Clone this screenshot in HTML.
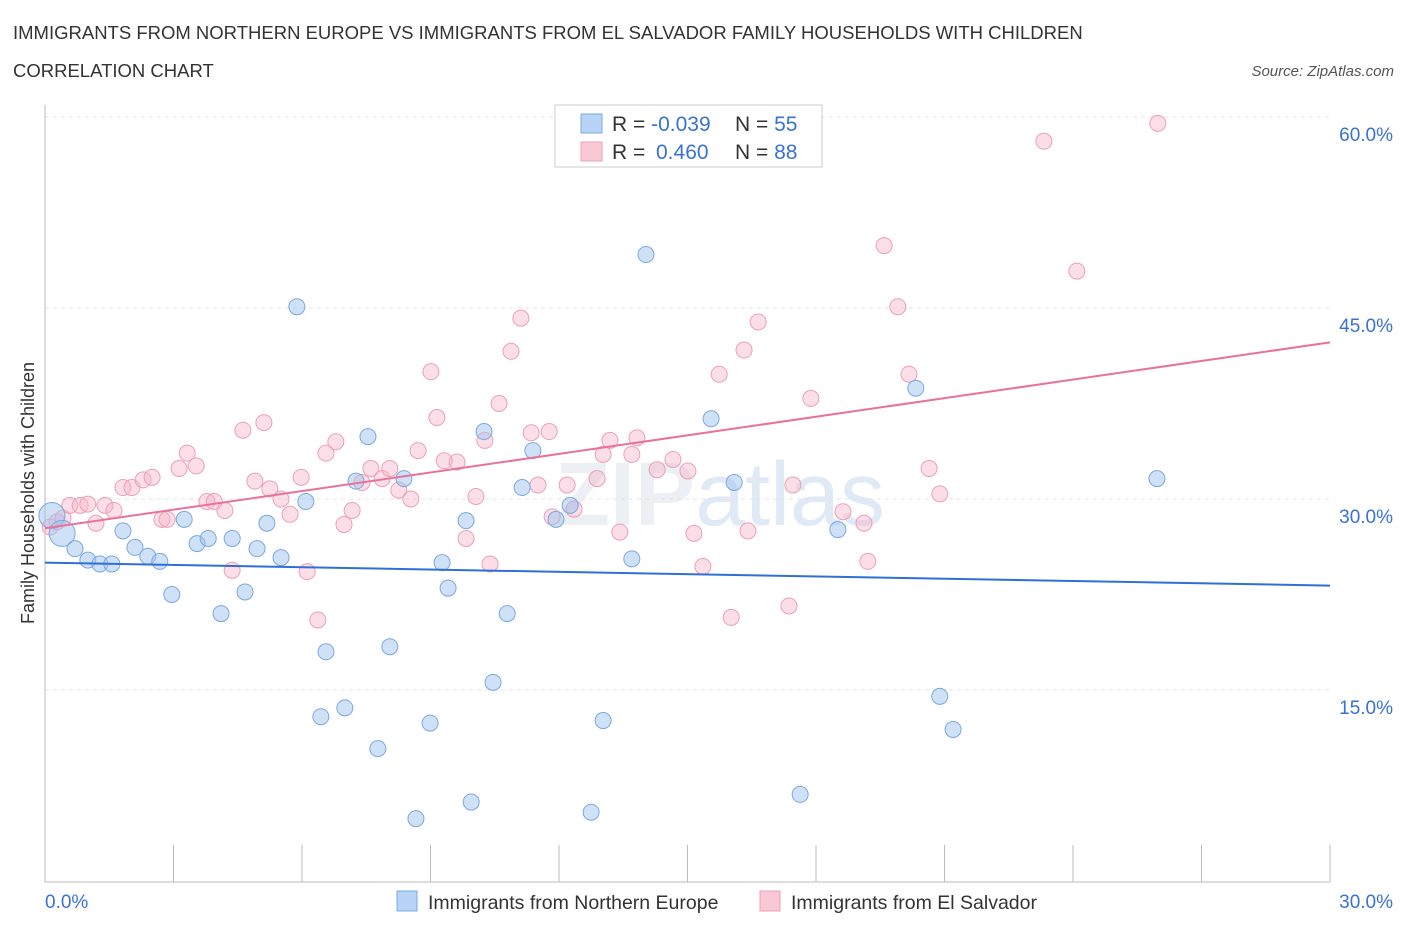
<!DOCTYPE html>
<html><head><meta charset="utf-8"><style>
body{margin:0;background:#fff;font-family:"Liberation Sans",sans-serif}
svg text{font-family:"Liberation Sans",sans-serif}
</style></head><body>
<svg id="c" width="1406" height="930">
<text x="13" y="39" font-size="18.5" fill="#333">IMMIGRANTS FROM NORTHERN EUROPE VS IMMIGRANTS FROM EL SALVADOR FAMILY HOUSEHOLDS WITH CHILDREN</text>
<text x="13" y="77" font-size="18.5" fill="#333">CORRELATION CHART</text>
<text x="1394" y="76" font-size="15" fill="#555" font-style="italic" text-anchor="end">Source: ZipAtlas.com</text>
<text x="720" y="525" font-size="90" fill="#eceff3" text-anchor="middle" font-weight="bold">ZIP<tspan font-weight="normal" fill="#e0eaf6">atlas</tspan></text>
<text transform="translate(34,493) rotate(-90)" font-size="18" fill="#333" text-anchor="middle">Family Households with Children</text>
<g id="grid"></g><g id="marks"></g>
<g>
<rect x="555" y="105" width="267" height="62" fill="#fff" stroke="#ccc"/>
<rect x="581" y="114" width="21" height="19" fill="#b7d3f5" stroke="#7aa8e0"/>
<rect x="581" y="142" width="21" height="19" fill="#f9c7d6" stroke="#eba0b8"/>
<text x="612" y="131" font-size="21" fill="#333">R = <tspan fill="#3a72d4">-0.039</tspan><tspan x="735">N = </tspan><tspan fill="#3a72d4">55</tspan></text>
<text x="612" y="159" font-size="21" fill="#333">R = <tspan x="656" fill="#3a72d4">0.460</tspan><tspan x="735">N = </tspan><tspan fill="#3a72d4">88</tspan></text>
</g>
<g>
<rect x="397" y="891" width="20" height="20" fill="#b7d3f5" stroke="#7aa8e0"/>
<text x="428" y="909" font-size="19.5" fill="#333">Immigrants from Northern Europe</text>
<rect x="760" y="891" width="20" height="20" fill="#f9c7d6" stroke="#eba0b8"/>
<text x="791" y="909" font-size="19.5" fill="#333">Immigrants from El Salvador</text>
</g>
</svg>
<script>
const yTicks=[15,30,45,60];
const xTickLabels=["0.0%","30.0%"];
const blueX=[0.16,0.40,0.70,1.00,1.28,1.56,1.82,2.10,2.40,2.68,2.96,3.25,3.55,3.81,4.11,4.37,4.67,4.95,5.18,5.51,5.88,6.09,6.56,6.44,7.00,7.26,7.54,7.77,8.05,8.38,8.66,8.99,9.27,9.41,9.83,9.95,10.25,10.46,10.79,11.14,11.39,11.93,12.26,12.75,13.03,13.70,14.03,15.55,16.09,17.63,18.51,20.33,20.89,21.20,25.96];
const blueY=[28.7,27.3,26.1,25.2,24.9,24.9,27.5,26.2,25.5,25.1,22.5,28.4,26.5,26.9,21.0,26.9,22.7,26.1,28.1,25.4,45.1,29.8,18.0,12.9,13.6,31.4,34.9,10.4,18.4,31.6,4.9,12.4,25.0,23.0,28.3,6.2,35.3,15.6,21.0,30.9,33.8,28.4,29.5,5.4,12.6,25.3,49.2,36.3,31.3,6.8,27.6,38.7,14.5,11.9,31.6];
const pinkX=[0.12,0.28,0.42,0.58,0.82,1.00,1.19,1.40,1.61,1.82,2.03,2.29,2.50,2.73,2.85,3.13,3.32,3.53,3.78,3.95,4.20,4.37,4.62,4.90,5.11,5.25,5.51,5.72,5.98,6.12,6.37,6.56,6.79,6.98,7.17,7.40,7.61,7.87,8.05,8.26,8.54,8.71,9.01,9.15,9.32,9.62,9.83,10.06,10.27,10.39,10.60,10.88,11.11,11.35,11.51,11.77,11.84,12.19,12.35,12.89,13.03,13.19,13.42,13.70,13.82,14.29,14.66,15.01,15.15,15.36,15.74,16.02,16.32,16.41,16.65,17.37,17.46,17.88,18.63,19.12,19.21,19.59,19.91,20.17,20.64,20.89,23.32,24.09,25.98];
const pinkY=[27.8,28.2,28.5,29.5,29.5,29.6,28.1,29.5,29.1,30.9,30.9,31.5,31.7,28.4,28.4,32.4,33.6,32.6,29.8,29.8,29.1,24.4,35.4,31.4,36.0,30.8,30.0,28.8,31.7,24.3,20.5,33.6,34.5,28.0,29.1,31.3,32.4,31.6,32.4,30.7,30.0,33.8,40.0,36.4,33.0,32.9,26.9,30.2,34.6,24.9,37.5,41.6,44.2,35.2,31.1,35.3,28.6,31.1,29.2,31.6,33.5,34.6,27.4,33.5,34.8,32.3,33.1,32.2,27.3,24.7,39.8,20.7,41.7,27.5,43.9,21.6,31.1,37.9,29.0,28.1,25.1,49.9,45.1,39.8,32.4,30.4,58.1,47.9,59.5];
const blueTrend=[25.0,23.2];
const pinkTrend=[27.7,42.3];
const NS="http://www.w3.org/2000/svg";
const X=v=>45+v*(1285/30), Y=v=>881-v*(191/15);
function mk(tag,attrs,parent){const e=document.createElementNS(NS,tag);for(const k in attrs)e.setAttribute(k,attrs[k]);parent.appendChild(e);return e;}
const grid=document.getElementById('grid'), marks=document.getElementById('marks');
yTicks.forEach(t=>{
 const l=mk('line',{x1:45,x2:1330,y1:Y(t),y2:Y(t),stroke:'#e3e3e3','stroke-dasharray':'4,4'},grid);
 
 
 const tx=mk('text',{x:1393,y:Y(t)+24,'font-size':19,fill:'#3a72d4','text-anchor':'end'},grid);
 tx.textContent=t.toFixed(1)+'%';
 
 
});
const ax=mk('line',{x1:45,x2:45,y1:105,y2:882,stroke:'#bbb'},grid);


const bx=mk('line',{x1:45,x2:1330,y1:882,y2:882,stroke:'#bbb'},grid);


for(let i=0;i<=10;i++){
 const t=mk('line',{x1:X(i*3),x2:X(i*3),y1:845,y2:882,stroke:'#bbb'},grid);
 
 
}
[[0,xTickLabels[0],'start',45],[30,xTickLabels[1],'end',1393]].forEach(a=>{
 const t=mk('text',{x:a[3],y:908,'font-size':19,fill:'#3a72d4','text-anchor':a[2]},grid);
 t.textContent=a[1];
 
 
});
pinkX.forEach((x,i)=>{
 const c=mk('circle',{cx:X(x),cy:Y(pinkY[i]),r:8,fill:'rgba(246,182,202,0.45)',stroke:'#eba0b8','stroke-width':1},marks);
 
 
});
blueX.forEach((x,i)=>{
 const c=mk('circle',{cx:X(x),cy:Y(blueY[i]),r:i<2?13:8,fill:'rgba(160,196,240,0.5)',stroke:'#7aa8e0','stroke-width':1},marks);
 
 
});
const tb=mk('line',{x1:X(0),y1:Y(blueTrend[0]),x2:X(30),y2:Y(blueTrend[1]),stroke:'#2f6fd6','stroke-width':2},marks);


const tp=mk('line',{x1:X(0),y1:Y(pinkTrend[0]),x2:X(30),y2:Y(pinkTrend[1]),stroke:'#e8729a','stroke-width':2},marks);


</script>
</body></html>
